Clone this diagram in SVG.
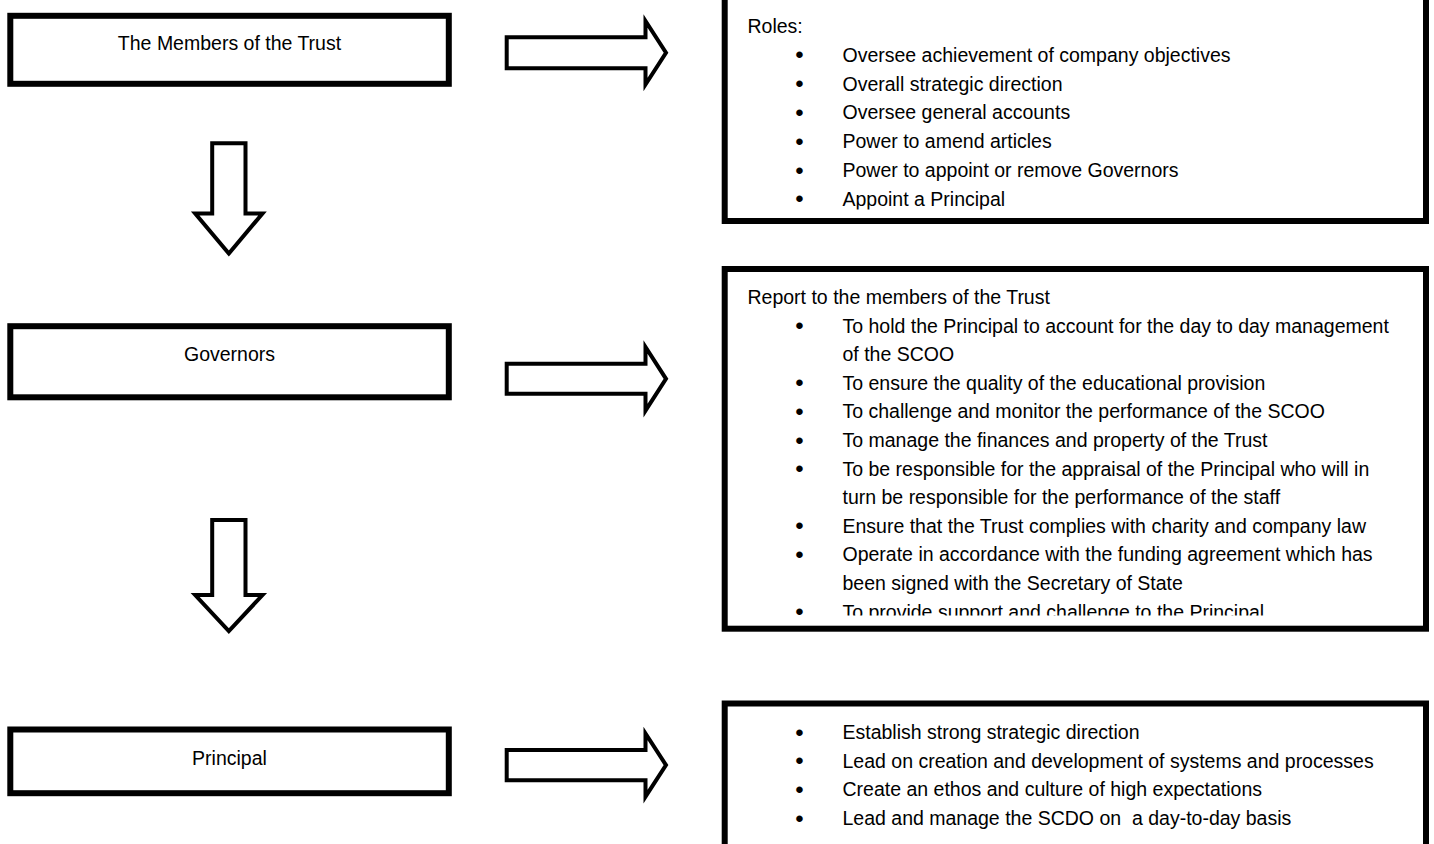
<svg xmlns="http://www.w3.org/2000/svg" width="1434" height="844" viewBox="0 0 1434 844">
<style>
.box{fill:#fff;stroke:#000;stroke-width:6}
.arr{fill:#fff;stroke:#000;stroke-width:4;stroke-linejoin:miter;stroke-miterlimit:10}
text{font-family:"Liberation Sans",Arial,sans-serif;font-size:19.5px;fill:#000}
.c{text-anchor:middle}
.b{text-anchor:middle;font-size:24px}
</style>
<defs>
<clipPath id="clipR1"><rect x="727" y="0" width="696" height="209.5"/></clipPath>
<clipPath id="clipR2"><rect x="727" y="272" width="696" height="343.5"/></clipPath>
</defs>
<rect width="1434" height="844" fill="#fff"/>

<g id="node-members">
<rect class="box" x="10.3" y="15.8" width="438.5" height="68"/>
<text class="c" x="229.5" y="50">The Members of the Trust</text>
</g>
<g id="node-governors">
<rect class="box" x="10.3" y="326.2" width="438.5" height="71.1"/>
<text class="c" x="229.5" y="361">Governors</text>
</g>
<g id="node-principal">
<rect class="box" x="10.3" y="729.5" width="438.5" height="63.7"/>
<text class="c" x="229.5" y="765">Principal</text>
</g>

<g id="node-roles-members">
<rect class="box" x="724.7" y="-10" width="701.3" height="231"/>
<g clip-path="url(#clipR1)">
<text x="747.5" y="33">Roles:</text>
<text class="b" x="799.5" y="63.4">•</text><text x="842.5" y="61.8">Oversee achievement of company objectives</text>
<text class="b" x="799.5" y="92.2">•</text><text x="842.5" y="90.6">Overall strategic direction</text>
<text class="b" x="799.5" y="121">•</text><text x="842.5" y="119.4">Oversee general accounts</text>
<text class="b" x="799.5" y="149.8">•</text><text x="842.5" y="148.2">Power to amend articles</text>
<text class="b" x="799.5" y="178.6">•</text><text x="842.5" y="177">Power to appoint or remove Governors</text>
<text class="b" x="799.5" y="207.4">•</text><text x="842.5" y="205.8">Appoint a Principal</text>
</g>
</g>

<g id="node-roles-governors">
<rect class="box" x="724.7" y="269" width="701.3" height="359.7"/>
<g clip-path="url(#clipR2)">
<text x="747.5" y="304">Report to the members of the Trust</text>
<text class="b" x="799.5" y="334.2">•</text><text x="842.5" y="332.6">To hold the Principal to account for the day to day management</text>
<text x="842.5" y="361.2">of the SCOO</text>
<text class="b" x="799.5" y="391.4">•</text><text x="842.5" y="389.8">To ensure the quality of the educational provision</text>
<text class="b" x="799.5" y="420">•</text><text x="842.5" y="418.4">To challenge and monitor the performance of the SCOO</text>
<text class="b" x="799.5" y="448.6">•</text><text x="842.5" y="447">To manage the finances and property of the Trust</text>
<text class="b" x="799.5" y="477.2">•</text><text x="842.5" y="475.6">To be responsible for the appraisal of the Principal who will in</text>
<text x="842.5" y="504.2">turn be responsible for the performance of the staff</text>
<text class="b" x="799.5" y="534.4">•</text><text x="842.5" y="532.8">Ensure that the Trust complies with charity and company law</text>
<text class="b" x="799.5" y="563">•</text><text x="842.5" y="561.4">Operate in accordance with the funding agreement which has</text>
<text x="842.5" y="590">been signed with the Secretary of State</text>
<text class="b" x="799.5" y="620.2">•</text><text x="842.5" y="618.6">To provide support and challenge to the Principal</text>
</g>
</g>

<g id="node-roles-principal">
<rect class="box" x="724.7" y="703.5" width="701.3" height="160"/>
<text class="b" x="799.5" y="740.6">•</text><text x="842.5" y="739">Establish strong strategic direction</text>
<text class="b" x="799.5" y="769.3">•</text><text x="842.5" y="767.7">Lead on creation and development of systems and processes</text>
<text class="b" x="799.5" y="798">•</text><text x="842.5" y="796.4">Create an ethos and culture of high expectations</text>
<text class="b" x="799.5" y="826.7">•</text><text x="842.5" y="825.1" style="white-space:pre">Lead and manage the SCDO on  a day-to-day basis</text>
</g>

<g id="connectors">
<path class="arr" d="M506.7,37.2 H645.5 V21 L666,52.75 L645.5,84.5 V68.3 H506.7 Z"/>
<path class="arr" d="M506.7,363.8 H645.5 V347 L666,378.8 L645.5,410.6 V393.8 H506.7 Z"/>
<path class="arr" d="M506.7,750 H645.5 V733.5 L666,765.1 L645.5,796.7 V780.2 H506.7 Z"/>
<path class="arr" d="M212.2,143.2 H245.5 V213.5 H262.5 L228.85,253.5 L195.2,213.5 H212.2 Z"/>
<path class="arr" d="M212.2,520 H245.5 V595 H262.5 L228.85,631 L195.2,595 H212.2 Z"/>
</g>
</svg>
